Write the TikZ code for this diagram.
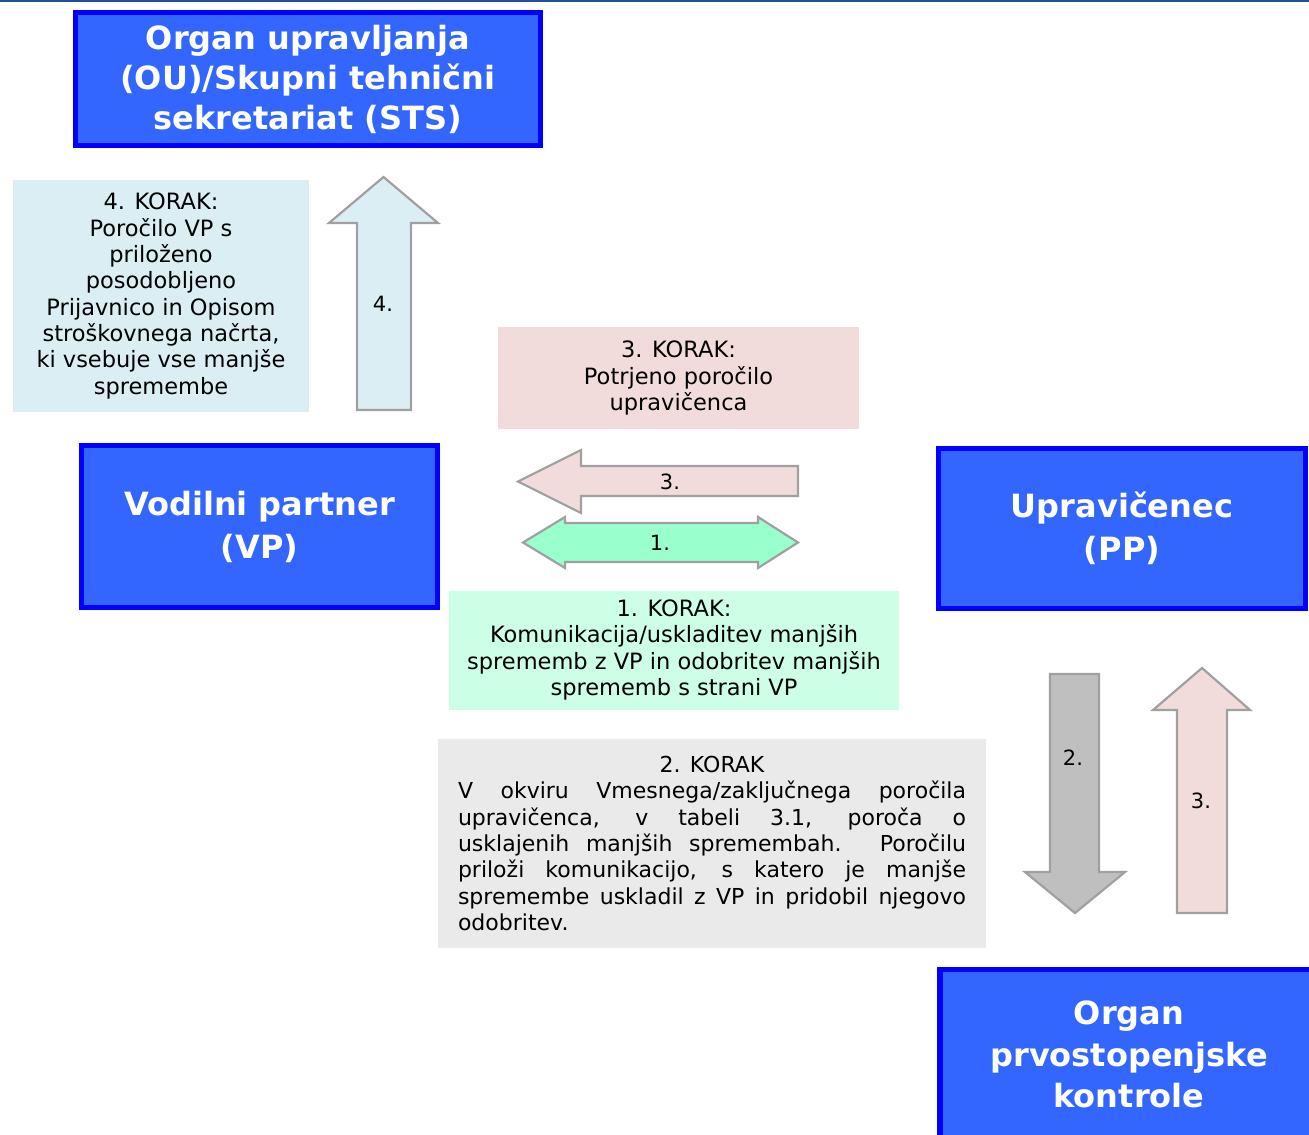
\documentclass[tikz,border=0pt]{standalone}
\usepackage{fontspec}
\setmainfont{DejaVu Sans}

\definecolor{boxblue}{HTML}{3366FF}
\definecolor{edgeblue}{HTML}{0000FF}
\definecolor{toprule}{HTML}{1F4E9C}
\definecolor{notecyan}{HTML}{DAEEF3}
\definecolor{notepink}{HTML}{F2DCDB}
\definecolor{notemint}{HTML}{CCFFE6}
\definecolor{notegray}{HTML}{EAEAEA}
\definecolor{arrowmint}{HTML}{99FFCC}
\definecolor{arrowgray}{HTML}{BFBFBF}
\definecolor{arrowedge}{HTML}{A0A0A0}

\tikzset{mainbox/.style={draw=edgeblue, line width=5.5pt, fill=boxblue, text=white,
         align=center, inner sep=0pt, font=\bfseries\fontsize{32}{40}\selectfont}}
\tikzset{stepnote/.style={fill=#1, align=center, inner sep=0pt,
         font=\fontsize{22.5}{26.3}\selectfont},
         stepnote/.default=notecyan}
\tikzset{blockarrow/.style={draw=arrowedge, line width=2.2pt, fill=#1},
         blockarrow/.default=notepink}
\tikzset{numlabel/.style={font=\fontsize{21}{24}\selectfont}}

\begin{document}
\begin{tikzpicture}[x=1pt, y=-1pt]
    \useasboundingbox (0,0) rectangle (1309,1135);
    \clip (0,0) rectangle (1309,1135);
    \draw[toprule, line width=2pt] (0,1)--(1309,1);
    % the four bodies
    \node[mainbox, minimum width=465pt, minimum height=133pt] (ou) at (308,79)
      {Organ upravljanja\\(OU)/Skupni tehnični\\sekretariat (STS)};
    \node[mainbox, minimum width=356pt, minimum height=162pt,
      font=\bfseries\fontsize{32}{43}\selectfont] (vp) at (259.5,526.5)
      {Vodilni partner\\(VP)};
    \node[mainbox, minimum width=367pt, minimum height=160pt,
      font=\bfseries\fontsize{32}{43}\selectfont] (pp) at (1122,528.5)
      {Upravičenec\\(PP)};
    \node[mainbox, minimum width=378pt, minimum height=170pt,
      font=\bfseries\fontsize{32}{41.5}\selectfont] (opk) at (1129,1054.5)
      {Organ\\prvostopenjske\\kontrole};

    % the steps
    \node[stepnote, minimum width=296pt, minimum height=232pt] (k4) at (161,296)
      {4. KORAK:\\Poročilo VP s\\priloženo\\posodobljeno\\Prijavnico in Opisom\\
       stroškovnega načrta,\\ki vsebuje vse manjše\\spremembe};
    \node[stepnote=notepink, minimum width=361pt, minimum height=102pt] (k3) at (678.5,378)
      {3. KORAK:\\Potrjeno poročilo\\upravičenca};
    \node[stepnote=notemint, minimum width=450pt, minimum height=119pt] (k1) at (674,650)
      {1. KORAK:\\Komunikacija/uskladitev manjših\\sprememb z VP in odobritev manjših\\
       sprememb s strani VP};
    \node[stepnote=notegray, minimum width=548pt, minimum height=209pt,
      font=\fontsize{22}{26.4}\selectfont] (k2) at (712,843.5)
      {2. KORAK\\
       \makebox[508pt][s]{V okviru Vmesnega/zaključnega poročila}\\
       \makebox[508pt][s]{upravičenca, v tabeli 3.1, poroča o}\\
       \makebox[508pt][s]{usklajenih manjših spremembah. Poročilu}\\
       \makebox[508pt][s]{priloži komunikacijo, s katero je manjše}\\
       \makebox[508pt][s]{spremembe uskladil z VP in pridobil njegovo}\\
       \makebox[508pt][l]{odobritev.}};

    % block arrows
    \draw[blockarrow=notecyan] (357,410)--(357,223)--(329,223)--(383.5,177)
      --(438,223)--(411,223)--(411,410)--cycle;
    \draw[blockarrow] (798,466)--(581,466)--(581,450)--(518,481.5)--(581,513)
      --(581,496)--(798,496)--cycle;
    \draw[blockarrow=arrowmint] (523,542.5)--(565,517)--(565,523)--(758,523)--(758,517)
      --(798,542.5)--(758,568)--(758,562)--(565,562)--(565,568)--cycle;
    \draw[blockarrow=arrowgray] (1050,674)--(1099,674)--(1099,872)--(1125,872)
      --(1075,913)--(1025,872)--(1050,872)--cycle;
    \draw[blockarrow] (1177,913)--(1177,710)--(1153,710)--(1202,668)--(1250,710)
      --(1227,710)--(1227,913)--cycle;
    \node[numlabel] (n4) at (383,304) {4.};
    \node[numlabel] (n3a) at (670,482) {3.};
    \node[numlabel] (n1) at (660,543) {1.};
    \node[numlabel] (n2) at (1073,758) {2.};
    \node[numlabel] (n3b) at (1201,801) {3.};
\end{tikzpicture}
\end{document}
